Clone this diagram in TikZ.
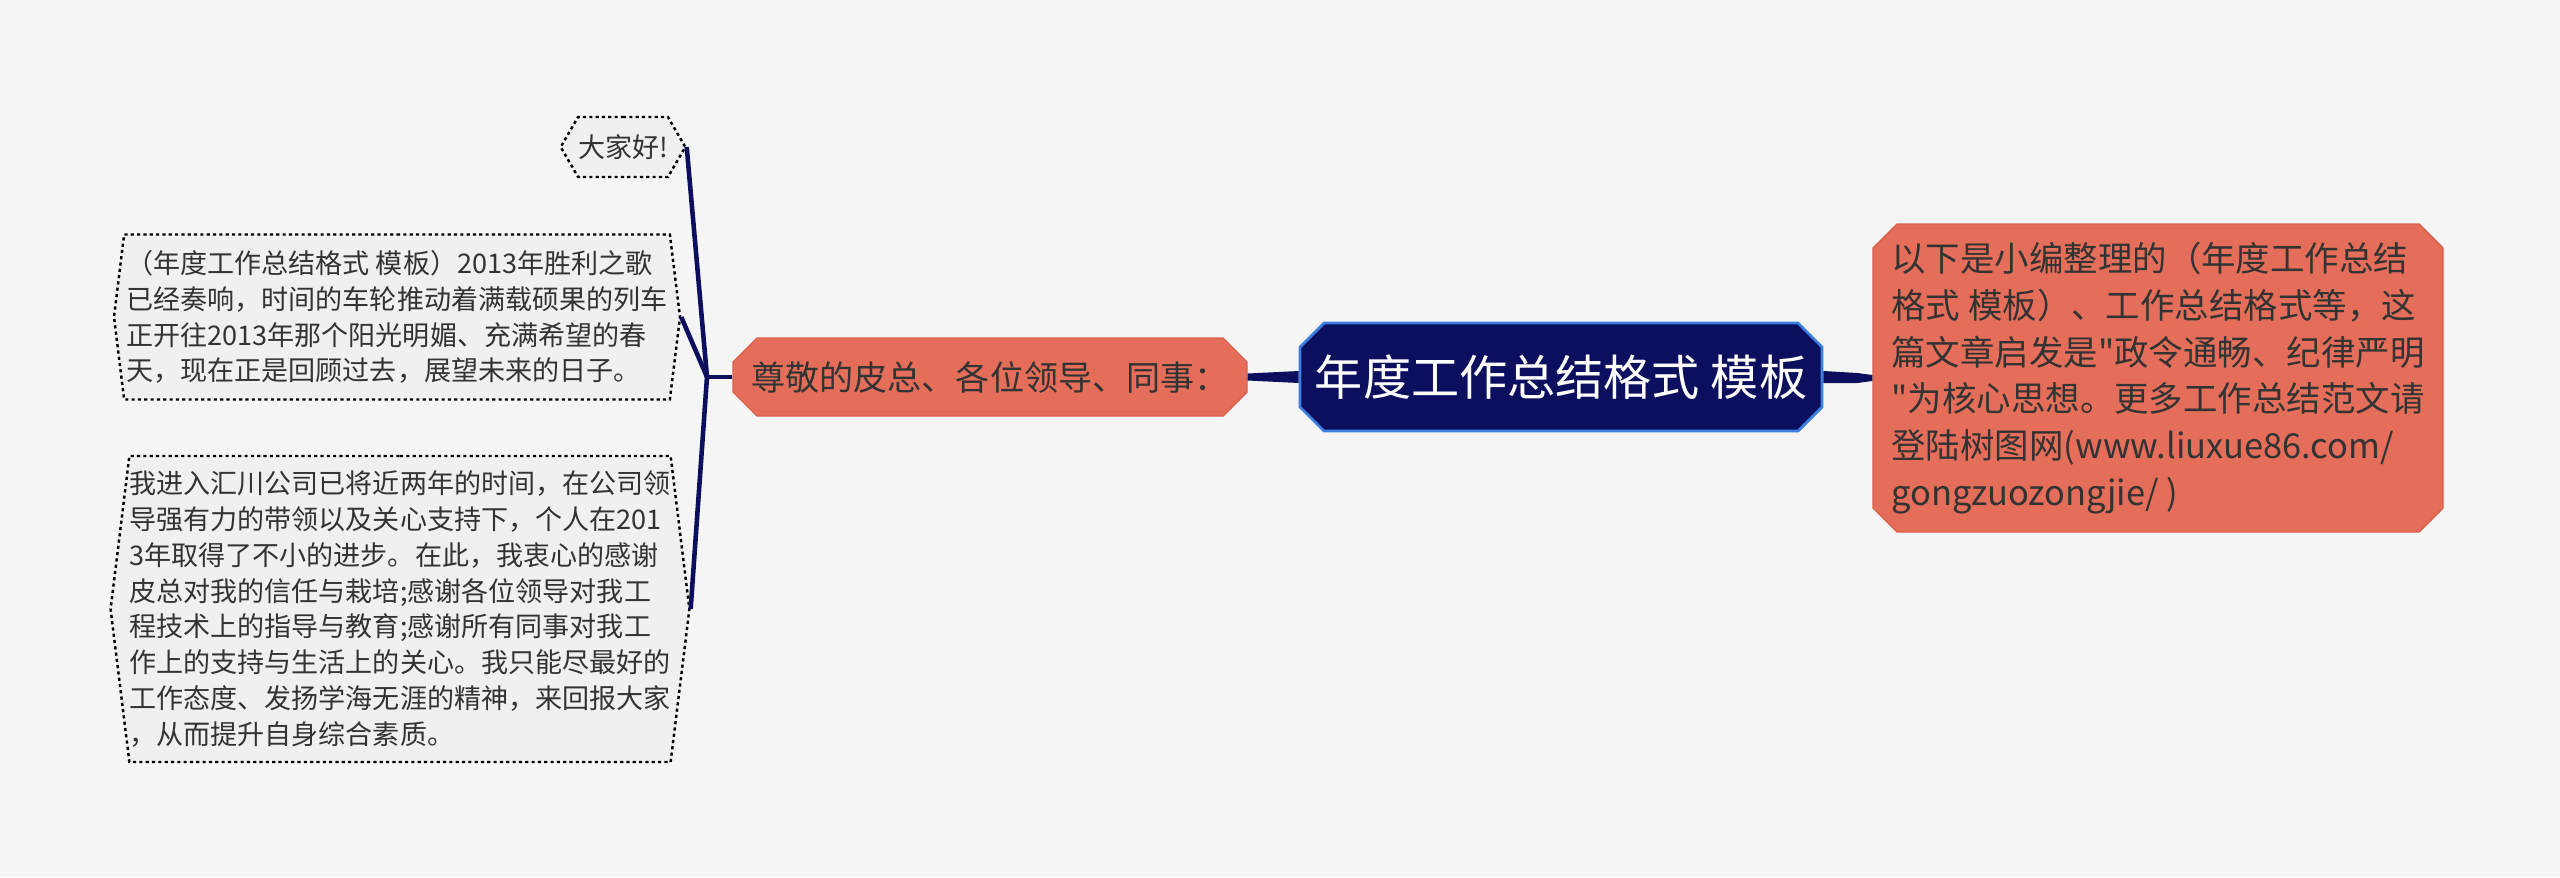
\documentclass[tikz,border=0pt]{standalone}
\usepackage{xcolor}
\usepackage{fontspec}
\setmainfont{Noto Sans CJK SC}[Ligatures=TeXOff]
\usepackage{tikz}
\usetikzlibrary{shapes}
\usetikzlibrary{shapes.misc}
\usetikzlibrary{shapes.symbols}
\usetikzlibrary{positioning}
\usetikzlibrary{calc}

\definecolor{navy}{HTML}{0B0F5E}
\definecolor{rootedge}{HTML}{3C7FE0}
\definecolor{salmon}{HTML}{E46E5A}
\definecolor{salmonedge}{HTML}{D8604C}
\definecolor{textgrey}{HTML}{333333}
\definecolor{notefill}{HTML}{F0F0F0}
\definecolor{paper}{HTML}{F5F5F5}

\begin{document}
\begin{tikzpicture}[
    rootbox/.style={chamfered rectangle, chamfered rectangle xsep=0.12cm, chamfered rectangle ysep=0.12cm,
      fill=navy, draw=rootedge, line width=0.8pt, text=white, inner sep=0pt,
      font=\fontsize{13.7}{16}\selectfont},
    topicbox/.style={chamfered rectangle, chamfered rectangle xsep=0.12cm, chamfered rectangle ysep=0.12cm,
      fill=salmon, draw=salmonedge, line width=0.4pt, text=textgrey, inner sep=0pt, align=left},
    notebox/.style={signal, signal to=east and west, signal pointer angle=166,
      fill=notefill, draw=black, dash pattern=on 0.9pt off 0.9pt, line width=0.7pt, text=textgrey, inner sep=0pt, align=left,
      font=\fontsize{7.7}{10.2}\selectfont},
    branch/.style={draw=navy, line width=1.3pt}
  ]
  \useasboundingbox (0,0) rectangle (25.6,-8.77);
  \fill[paper] (0,0) rectangle (25.6,-8.77);

  \node[rootbox, minimum width=5.22cm, minimum height=1.08cm] (root) at (15.61,-3.77) {年度工作总结格式 模板};

  \node[topicbox, minimum width=5.70cm, minimum height=3.08cm, font=\fontsize{9.8}{13.3}\selectfont] (intro) at (21.58,-3.78)
    {以下是小编整理的（年度工作总结\\格式 模板）、工作总结格式等，这\\篇文章启发是"政令通畅、纪律严明\\"为核心思想。更多工作总结范文请\\登陆树图网(www.liuxue86.com/\\gongzuozongjie/ )};

  \node[topicbox, minimum width=5.14cm, minimum height=0.78cm, font=\fontsize{9.7}{11}\selectfont] (greet) at (9.90,-3.77)
    {尊敬的皮总、各位领导、同事：};

  \node[notebox, signal pointer angle=120, minimum width=1.16cm, minimum height=0.60cm] (hello) at (6.23,-1.47) {大家好!};

  \node[notebox, minimum width=5.66cm, minimum height=1.65cm] (song) at (3.97,-3.17)
    {（年度工作总结格式 模板）2013年胜利之歌\\已经奏响，时间的车轮推动着满载硕果的列车\\正开往2013年那个阳光明媚、充满希望的春\\天，现在正是回顾过去，展望未来的日子。};

  \node[notebox, minimum width=5.62cm, minimum height=3.06cm] (thanks) at (4.00,-6.09)
    {我进入汇川公司已将近两年的时间，在公司领\\导强有力的带领以及关心支持下，个人在201\\3年取得了不小的进步。在此，我衷心的感谢\\皮总对我的信任与栽培;感谢各位领导对我工\\程技术上的指导与教育;感谢所有同事对我工\\作上的支持与生活上的关心。我只能尽最好的\\工作态度、发扬学海无涯的精神，来回报大家\\，从而提升自身综合素质。};

  \fill[navy] ([yshift=0.035cm]greet.east) -- ([yshift=0.06cm]root.west) -- ([yshift=-0.06cm]root.west) -- ([yshift=-0.035cm]greet.east) -- cycle;
  \fill[navy] ([yshift=0.06cm]root.east) -- ([yshift=0.05cm,xshift=-0.15cm]intro.west) -- ([yshift=0.03cm]intro.west) -- ([yshift=-0.03cm]intro.west) -- ([yshift=-0.05cm,xshift=-0.15cm]intro.west) -- ([yshift=-0.06cm]root.east) -- cycle;

  \coordinate (fork) at (7.07,-3.77);
  \draw[branch] (greet.west) -- (fork);
  \draw[branch] (fork) -- (hello.east);
  \draw[branch] (fork) -- (song.east);
  \draw[branch] (fork) -- (thanks.east);

\end{tikzpicture}
\end{document}
